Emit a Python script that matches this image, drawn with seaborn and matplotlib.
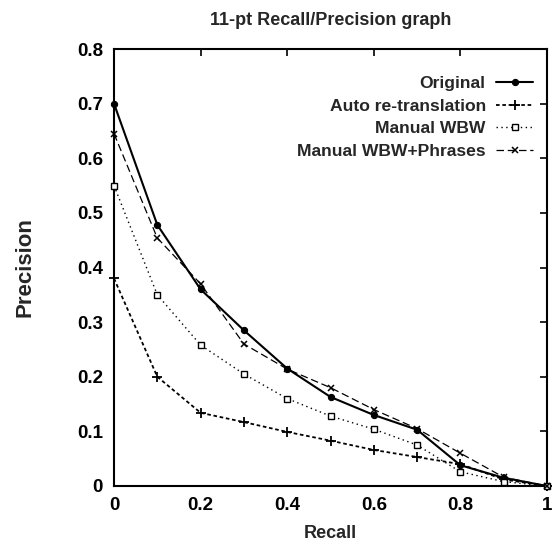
import matplotlib
matplotlib.use("Agg")
import matplotlib.pyplot as plt
import seaborn as sns
import pandas as pd

recall = [0.0, 0.1, 0.2, 0.3, 0.4, 0.5, 0.6, 0.7, 0.8, 0.9, 1.0]
original = [0.70, 0.478, 0.36, 0.285, 0.215, 0.163, 0.13, 0.103, 0.038, 0.015, 0.0]
auto_retrans = [0.38, 0.20, 0.134, 0.117, 0.099, 0.083, 0.066, 0.053, 0.04, 0.012, 0.0]
manual_wbw = [0.55, 0.35, 0.258, 0.205, 0.16, 0.128, 0.104, 0.075, 0.026, 0.008, 0.0]
manual_phr = [0.645, 0.454, 0.37, 0.26, 0.214, 0.18, 0.14, 0.105, 0.06, 0.016, 0.0]
series_names = ["Original", "Auto re-translation", "Manual WBW", "Manual WBW+Phrases"]
xticks = [0, 0.2, 0.4, 0.6, 0.8, 1]
xticklabels = ["0", "0.2", "0.4", "0.6", "0.8", "1"]
yticks = [0, 0.1, 0.2, 0.3, 0.4, 0.5, 0.6, 0.7, 0.8]
yticklabels = ["0", "0.1", "0.2", "0.3", "0.4", "0.5", "0.6", "0.7", "0.8"]

sns.set_style("white")
plt.rcParams["font.family"] = ["Liberation Sans", "DejaVu Sans"]
plt.rcParams["font.weight"] = "bold"

fig = plt.figure(figsize=(5.54, 5.46), dpi=100)
ax = fig.add_axes([114 / 554, 1 - 486 / 546, (547 - 114) / 554, (486 - 49) / 546])

styles = {
    "Original": dict(marker="o", markersize=4.5, linewidth=1.5, linestyle="-",
                     markerfacecolor="black", markeredgecolor="black"),
    "Auto re-translation": dict(marker="+", markersize=7, linewidth=1.3, linestyle=(0, (2.0, 1.5)),
                                markeredgewidth=1.3, markeredgecolor="black"),
    "Manual WBW": dict(marker="s", markersize=4.5, linewidth=1.0, linestyle=(0, (1, 2.5)),
                       markerfacecolor="white", markeredgecolor="black", markeredgewidth=1.0),
    "Manual WBW+Phrases": dict(marker="x", markersize=5, linewidth=0.9, linestyle=(0, (6, 3)),
                               markeredgewidth=1.1, markeredgecolor="black"),
}
values = [original, auto_retrans, manual_wbw, manual_phr]
for name, vals in zip(series_names, values):
    df = pd.DataFrame({"Recall": recall, "Precision": vals})
    sns.lineplot(data=df, x="Recall", y="Precision", ax=ax, color="black",
                 label=name, clip_on=False, zorder=3, **styles[name])

ax.set_xlim(0, 1)
ax.set_ylim(0, 0.8)
ax.set_xticks(xticks)
ax.set_xticklabels(xticklabels)
ax.set_yticks(yticks)
ax.set_yticklabels(yticklabels)
ax.tick_params(axis="both", direction="in", length=5, width=1.2, labelsize=13.5,
               top=True, right=True, pad=8, colors="black")
for sp in ax.spines.values():
    sp.set_linewidth(1.5)
    sp.set_color("black")

ax.set_title("11-pt Recall/Precision graph", fontsize=13, fontweight="bold", pad=17)
ax.set_xlabel("Recall", fontsize=13, fontweight="bold", labelpad=8)
ax.set_ylabel("Precision", fontsize=16, fontweight="bold", labelpad=30)

leg = ax.legend(loc="upper right", bbox_to_anchor=((533 - 114) / 433, (486 - 76) / 437),
                frameon=False, markerfirst=False, fontsize=12.6, borderaxespad=0,
                borderpad=0, handlelength=2.1, handletextpad=0.6, labelspacing=0.42)

fig.savefig("out.png", dpi=100, facecolor="white")
